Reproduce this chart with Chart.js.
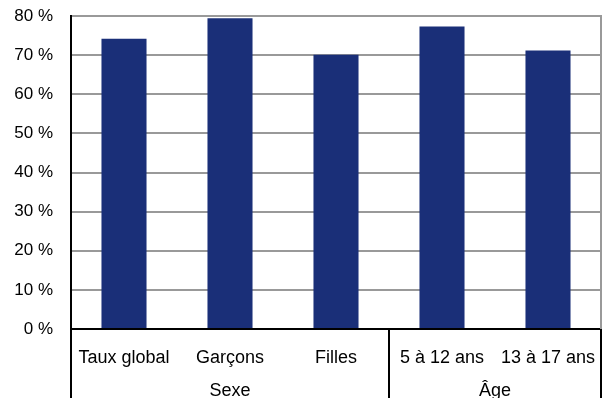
<!DOCTYPE html>
<html>
<head>
<meta charset="utf-8">
<script src="https://cdn.jsdelivr.net/npm/chart.js@4"></script>
<style>
  html, body { margin: 0; padding: 0; background: #fff; }
  #wrap { width: 602px; height: 398px; }
</style>
</head>
<body>
<div id="wrap"><canvas id="tauxChart" width="602" height="398"></canvas></div>
<script>
// données
const categories = ['Taux global', 'Garçons', 'Filles', '5 à 12 ans', '13 à 17 ans'];
const valeurs = [74.2, 79.4, 70.1, 77.3, 71.2];
const groupes = ['Sexe', 'Âge'];
const tailleGroupes = [3, 2];

// lignes et libellés des groupes sous l'axe
const groupesPlugin = {
    id: 'groupes',
    afterDraw(chart) {
        const ctx = chart.ctx;
        const area = chart.chartArea;
        const x = chart.scales.x;
        const h = chart.height;
        ctx.save();
        // bordure droite grise
        ctx.strokeStyle = '#999999';
        ctx.lineWidth = 2;
        ctx.beginPath();
        ctx.moveTo(area.right, area.top - 1);
        ctx.lineTo(area.right, area.bottom);
        ctx.stroke();

        ctx.strokeStyle = '#000';
        ctx.lineWidth = 2;
        let debut = 0;
        const bords = [area.left];
        for (let g = 0; g < groupes.length; g++) {
            const fin = debut + tailleGroupes[g] - 1;
            const xd = x.getPixelForValue(debut);
            const xf = x.getPixelForValue(fin);
            const pas = categories.length > 1 ? x.getPixelForValue(1) - x.getPixelForValue(0) : 0;
            bords.push(xf + pas / 2);
            ctx.fillStyle = '#000';
            ctx.font = '18px "Liberation Sans", Arial, sans-serif';
            ctx.textAlign = 'center';
            ctx.textBaseline = 'middle';
            ctx.fillText(groupes[g], (xd + xf) / 2, 391);
            debut = fin + 1;
        }
        bords.forEach(function (bx) {
            ctx.beginPath();
            ctx.moveTo(bx, area.bottom);
            ctx.lineTo(bx, h);
            ctx.stroke();
        });
        ctx.restore();
    }
};

const ctx1 = document.getElementById('tauxChart').getContext('2d');
const tauxChart = new Chart(ctx1, {
    type: 'bar',
    data: {
        labels: categories,
        datasets: [{
            data: valeurs,
            backgroundColor: '#1a2f78',
            borderWidth: 0,
            barPercentage: 0.425,
            categoryPercentage: 1
        }]
    },
    options: {
        responsive: false,
        animation: false,
        layout: { padding: { top: 16, right: 1, left: 0, bottom: 0 } },
        plugins: {
            legend: { display: false },
            tooltip: { enabled: false }
        },
        scales: {
            x: {
                grid: { display: false, drawTicks: false },
                border: { display: true, color: '#000', width: 2 },
                ticks: {
                    color: '#000',
                    padding: 18,
                    maxRotation: 0,
                    autoSkip: false,
                    font: { family: '"Liberation Sans", Arial, sans-serif', size: 18 }
                },
                afterFit: function (scale) {
                    scale.height = 69;
                    scale.paddingLeft = 0;
                    scale.paddingRight = 0;
                }
            },
            y: {
                min: 0,
                max: 80,
                grid: { color: '#999999', lineWidth: 2, drawTicks: false },
                border: { display: true, color: '#000', width: 2 },
                ticks: {
                    stepSize: 10,
                    color: '#000',
                    padding: 18,
                    font: { family: '"Liberation Sans", Arial, sans-serif', size: 17 },
                    callback: function (v) { return v + ' %'; }
                },
                afterFit: function (scale) {
                    scale.width = 71;
                    scale.paddingTop = 0;
                    scale.paddingBottom = 0;
                }
            }
        }
    },
    plugins: [groupesPlugin]
});
</script>
</body>
</html>
